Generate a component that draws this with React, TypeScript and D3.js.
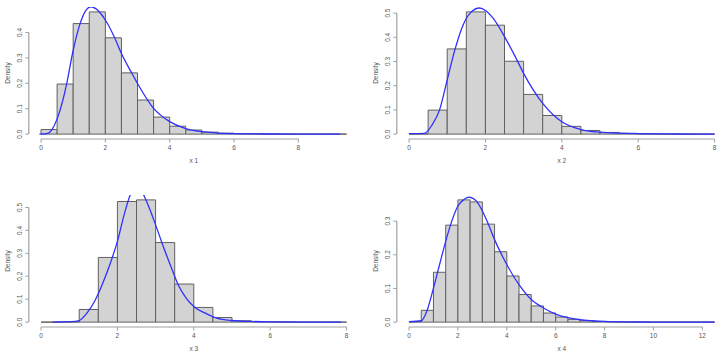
import React, { useEffect, useRef } from 'react';
import * as d3 from 'd3';

// Bar heights (density) for bins of width 0.5 starting at 0
const x1Density = [0.018, 0.197, 0.435, 0.481, 0.379, 0.241, 0.134, 0.067, 0.031, 0.016, 0.008, 0.004, 0.002, 0.001, 0.0005, 0, 0, 0, 0.0002];
const x2Density = [0.001, 0.099, 0.352, 0.505, 0.45, 0.301, 0.164, 0.077, 0.032, 0.015, 0.007, 0.003, 0.001, 0.0005, 0, 0.0002];
const x3Density = [0, 0.001, 0.055, 0.282, 0.526, 0.533, 0.347, 0.166, 0.064, 0.02, 0.006, 0.002, 0.0005, 0, 0, 0.0002];
const x4Density = [0.001, 0.035, 0.148, 0.288, 0.363, 0.357, 0.291, 0.209, 0.137, 0.082, 0.048, 0.027, 0.015, 0.008, 0.004, 0.002, 0.001, 0.0005, 0.0003, 0, 0, 0, 0, 0, 0.0002];

// Kernel density estimates, [x, density]
const x1Curve: [number, number][] = [
  [-0.05, 0], [0.2, 0.003], [0.35, 0.02], [0.5, 0.06], [0.65, 0.12], [0.8, 0.2], [1.0, 0.33], [1.2, 0.429],
  [1.4, 0.488], [1.55, 0.501], [1.7, 0.494], [2.0, 0.449], [2.3, 0.376], [2.5, 0.317], [2.8, 0.245],
  [3.0, 0.199], [3.5, 0.101], [4.0, 0.049], [4.5, 0.022], [5.0, 0.01], [5.5, 0.004], [6.0, 0.002],
  [7.0, 0.0005], [8.0, 0.0001], [9.3, 0]
];
const x2Curve: [number, number][] = [
  [0, 0.002], [0.4, 0.003], [0.6, 0.037], [0.8, 0.1], [1.0, 0.224], [1.2, 0.348], [1.4, 0.445],
  [1.6, 0.5], [1.85, 0.521], [2.0, 0.511], [2.2, 0.479], [2.5, 0.403], [2.8, 0.314], [3.0, 0.251],
  [3.5, 0.127], [4.0, 0.051], [4.5, 0.019], [5.0, 0.008], [5.5, 0.004], [6.0, 0.002], [7.0, 0.0005], [8.0, 0]
];
const x3Curve: [number, number][] = [
  [0.3, 0], [0.5, 0.001], [0.8, 0.002], [1.0, 0.007], [1.2, 0.039], [1.4, 0.09], [1.6, 0.163], [1.8, 0.25],
  [2.0, 0.352], [2.2, 0.483], [2.35, 0.56], [2.5, 0.585], [2.65, 0.565], [2.8, 0.512], [3.0, 0.424],
  [3.2, 0.33], [3.4, 0.243], [3.6, 0.16], [3.8, 0.105], [4.0, 0.068], [4.3, 0.039], [4.6, 0.017],
  [5.0, 0.007], [5.5, 0.003], [6.0, 0.001], [7.0, 0.0003], [7.85, 0]
];
const x4Curve: [number, number][] = [
  [0, 0.001], [0.5, 0.004], [0.75, 0.037], [1.0, 0.101], [1.25, 0.171], [1.5, 0.24], [1.75, 0.3],
  [2.0, 0.345], [2.25, 0.364], [2.45, 0.371], [2.75, 0.36], [3.0, 0.33], [3.25, 0.29], [3.5, 0.245],
  [4.0, 0.171], [4.5, 0.111], [5.0, 0.067], [5.5, 0.042], [6.0, 0.024], [6.5, 0.013], [7.0, 0.007],
  [7.5, 0.004], [8.0, 0.002], [9.0, 0.0005], [10.0, 0.0002], [12.5, 0]
];

const x1Ticks = [0, 2, 4, 6, 8];
const x4Ticks = [0, 2, 4, 6, 8, 10, 12];
const y1Ticks = [0, 0.1, 0.2, 0.3, 0.4];
const y2Ticks = [0, 0.1, 0.2, 0.3, 0.4, 0.5];
const y4Ticks = [0, 0.1, 0.2, 0.3];

const binWidth = 0.5;

const panels = [
  { id: 'p1', label: 'x 1', bins: x1Density, curve: x1Curve, xTicks: x1Ticks, yTicks: y1Ticks, left: 28.8, top: 7 },
  { id: 'p2', label: 'x 2', bins: x2Density, curve: x2Curve, xTicks: x1Ticks, yTicks: y2Ticks, left: 396.8, top: 7 },
  { id: 'p3', label: 'x 3', bins: x3Density, curve: x3Curve, xTicks: x1Ticks, yTicks: y2Ticks, left: 28.8, top: 195 },
  { id: 'p4', label: 'x 4', bins: x4Density, curve: x4Curve, xTicks: x4Ticks, yTicks: y4Ticks, left: 396.8, top: 195 },
];

const plotWidth = 330;
const plotHeight = 132;
const font = '"Liberation Sans", Arial, sans-serif';

function drawPanel(svg: d3.Selection<SVGSVGElement, unknown, null, undefined>, p: typeof panels[0]) {
  const xMax = p.bins.length * binWidth;
  const yMax = d3.max(p.bins) as number;

  // R style 4% padding around the data range
  const xScale = d3.scaleLinear()
    .domain([-0.04 * xMax, xMax * 1.04])
    .range([p.left, p.left + plotWidth]);
  const yScale = d3.scaleLinear()
    .domain([-0.04 * yMax, yMax * 1.04])
    .range([p.top + plotHeight, p.top]);

  const g = svg.append('g').attr('class', 'panel ' + p.id);

  g.append('clipPath')
    .attr('id', 'clip-' + p.id)
    .append('rect')
    .attr('x', p.left)
    .attr('y', p.top)
    .attr('width', plotWidth)
    .attr('height', plotHeight);

  const plot = g.append('g').attr('clip-path', 'url(#clip-' + p.id + ')');

  // bars as paths so empty bins still leave their outline on the baseline
  plot.selectAll('.bar')
    .data(p.bins)
    .enter()
    .append('path')
    .attr('class', 'bar')
    .attr('d', (d, i) => {
      const x0 = xScale(i * binWidth);
      const x1 = xScale((i + 1) * binWidth);
      const y0 = yScale(0);
      const y1 = yScale(d);
      return `M${x0},${y0}V${y1}H${x1}V${y0}Z`;
    })
    .attr('fill', '#d3d3d3')
    .attr('stroke', '#606060')
    .attr('stroke-width', 1);

  const line = d3.line<[number, number]>()
    .x(d => xScale(d[0]))
    .y(d => yScale(d[1]))
    .curve(d3.curveMonotoneX);

  plot.append('path')
    .datum(p.curve)
    .attr('d', line)
    .attr('fill', 'none')
    .attr('stroke', '#3030ff')
    .attr('stroke-width', 1.3);

  // x axis
  const axisY = p.top + plotHeight;
  const xa = g.append('g').attr('class', 'axis axis--x');
  xa.append('line')
    .attr('x1', xScale(p.xTicks[0]))
    .attr('x2', xScale(p.xTicks[p.xTicks.length - 1]))
    .attr('y1', axisY).attr('y2', axisY)
    .attr('stroke', '#a0a0a0').attr('stroke-width', 1.2);
  xa.selectAll('.tick')
    .data(p.xTicks)
    .enter()
    .append('line')
    .attr('x1', d => xScale(d)).attr('x2', d => xScale(d))
    .attr('y1', axisY).attr('y2', axisY + 3.5)
    .attr('stroke', '#a0a0a0').attr('stroke-width', 1);
  xa.selectAll('.lbl')
    .data(p.xTicks)
    .enter()
    .append('text')
    .attr('x', d => xScale(d))
    .attr('y', axisY + 10.8)
    .attr('text-anchor', 'middle')
    .attr('font-size', 6.5)
    .attr('font-family', font)
    .attr('fill', '#555')
    .text(d => String(d));

  // y axis, labels parallel to the axis
  const axisX = p.left;
  const ya = g.append('g').attr('class', 'axis axis--y');
  ya.append('line')
    .attr('y1', yScale(p.yTicks[0]))
    .attr('y2', yScale(p.yTicks[p.yTicks.length - 1]))
    .attr('x1', axisX).attr('x2', axisX)
    .attr('stroke', '#a0a0a0').attr('stroke-width', 1.2);
  ya.selectAll('.tick')
    .data(p.yTicks)
    .enter()
    .append('line')
    .attr('y1', d => yScale(d)).attr('y2', d => yScale(d))
    .attr('x1', axisX).attr('x2', axisX - 3.5)
    .attr('stroke', '#a0a0a0').attr('stroke-width', 1);
  ya.selectAll('.lbl')
    .data(p.yTicks)
    .enter()
    .append('text')
    .attr('transform', d => `translate(${axisX - 7},${yScale(d)}) rotate(-90)`)
    .attr('text-anchor', 'middle')
    .attr('font-size', 6.5)
    .attr('font-family', font)
    .attr('fill', '#555')
    .text(d => d.toFixed(1));

  // axis titles
  g.append('text')
    .attr('x', p.left + plotWidth / 2)
    .attr('y', axisY + 24)
    .attr('text-anchor', 'middle')
    .attr('font-size', 6.5)
    .attr('font-family', font)
    .attr('fill', '#555')
    .text(p.label);
  g.append('text')
    .attr('transform', `translate(${axisX - 18.7},${p.top + plotHeight / 2}) rotate(-90)`)
    .attr('text-anchor', 'middle')
    .attr('font-size', 6.5)
    .attr('font-family', font)
    .attr('fill', '#555')
    .text('Density');
}

export default function App() {
  const ref = useRef<SVGSVGElement>(null);

  useEffect(() => {
    const svg = d3.select(ref.current as SVGSVGElement);
    svg.selectAll('*').remove();
    panels.forEach(p => drawPanel(svg, p));
  }, []);

  return (
    <svg
      ref={ref}
      width={726}
      height={356}
      style={{ position: 'absolute', left: 0, top: 0, background: '#fff' }}
    />
  );
}
